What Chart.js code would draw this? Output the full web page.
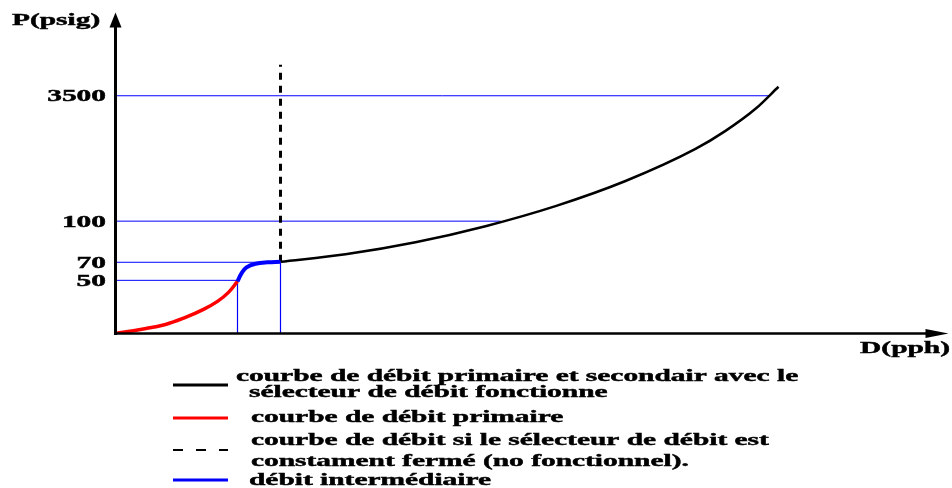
<!DOCTYPE html>
<html>
<head>
<meta charset="utf-8">
<script src="https://cdn.jsdelivr.net/npm/chart.js@4/dist/chart.umd.min.js"></script>
<style>
  html, body { margin: 0; padding: 0; background: #fff; }
  #wrap { width: 952px; height: 488px; }
</style>
</head>
<body>
<div id="wrap"><canvas id="graficoDebit"></canvas></div>
<script>
// =====================================================
// DONNEES - COURBE DEBIT / PRESSION
// =====================================================

// positions sur l'axe P (unites de trace) et libelles affiches
const yTickPos = [53, 71, 112, 237];
const yTickLabels = ["50", "70", "100", "3500"];

// fin de chaque ligne de repere horizontale (sur D)
const guideEndX = [122, 165, 385, 654];

// reperes verticaux (sur D) et leur hauteur
const guideVertX = [122, 165];
const guideVertY = [53, 71];

// courbe de debit primaire (rouge)
const primaireX = [0, 25, 50, 70, 88, 102, 113, 122];
const primaireY = [0, 4, 9, 16, 24, 32, 41, 52];

// debit intermediaire (bleu)
const interX = [122, 126, 131, 140, 152, 165];
const interY = [52, 60, 66, 69.5, 71, 71.5];

// primaire + secondaire avec selecteur (noir)
const totalX = [165, 230, 300, 370, 440, 510, 580, 610, 640, 663];
const totalY = [71.5, 79, 91, 107, 127, 152, 184, 202, 224, 246];

// selecteur constamment ferme (tirets)
const fermeX = [165, 165];
const fermeY = [71.5, 268];

const legendeItems = [
  { style: "solid", color: "#000", lines: ["courbe de débit primaire et secondair avec le", "sélecteur de débit fonctionne"], y: [381, 397], x: [236, 249], ly: 385 },
  { style: "solid", color: "#ff0000", lines: ["courbe de débit primaire"], y: [422], x: [251], ly: 418 },
  { style: "dash", color: "#000", lines: ["courbe de débit si le sélecteur de débit est", "constament fermé (no fonctionnel)."], y: [445, 466], x: [251, 251], ly: 450 },
  { style: "solid", color: "#0000ff", lines: ["débit intermédiaire"], y: [485], x: [249], ly: 480 }
];

const FONT = "bold 17px 'Liberation Serif'";
const STRETCH = 1.73;

function puntos(xs, ys) {
  return xs.map((x, i) => ({ x: x, y: ys[i] }));
}

// =====================================================
// LIGNES DE REPERE (bleu fin)
// =====================================================

const guides = [];
yTickPos.forEach((p, i) => {
  guides.push({
    data: [{ x: 0, y: p }, { x: guideEndX[i], y: p }],
    borderColor: "#0000ff", borderWidth: 1, pointRadius: 0, order: 5
  });
});
guideVertX.forEach((gx, i) => {
  guides.push({
    data: [{ x: gx, y: 0 }, { x: gx, y: guideVertY[i] }],
    borderColor: "#0000ff", borderWidth: 1.2, pointRadius: 0, order: 5
  });
});

// =====================================================
// TEXTE ETIRE + AXES FLECHES
// =====================================================

function texte(ctx, str, x, y, align) {
  ctx.save();
  ctx.font = FONT;
  ctx.fillStyle = "#000";
  ctx.strokeStyle = "#000";
  ctx.lineWidth = 0.45;
  ctx.textBaseline = "alphabetic";
  ctx.textAlign = align || "left";
  ctx.translate(x, y);
  ctx.scale(STRETCH, 1);
  ctx.fillText(str, 0, 0);
  ctx.strokeText(str, 0, 0);
  ctx.restore();
}

const axesPlugin = {
  id: "axesFleches",
  afterDraw(chart) {
    const ctx = chart.ctx;
    const xs = chart.scales.x;
    const ys = chart.scales.y;
    const x0 = xs.getPixelForValue(0);
    const y0 = ys.getPixelForValue(0);
    const yTop = ys.getPixelForValue(ys.max);
    const xEnd = xs.getPixelForValue(xs.max);

    ctx.save();
    ctx.strokeStyle = "#000";
    ctx.fillStyle = "#000";
    ctx.lineWidth = 3;

    // axe P
    ctx.beginPath();
    ctx.moveTo(x0, y0 + 1.5);
    ctx.lineTo(x0, yTop + 12);
    ctx.stroke();
    ctx.beginPath();
    ctx.moveTo(x0, yTop);
    ctx.lineTo(x0 - 6, yTop + 15);
    ctx.lineTo(x0 + 6, yTop + 15);
    ctx.closePath();
    ctx.fill();

    // axe D
    ctx.lineWidth = 2.5;
    ctx.beginPath();
    ctx.moveTo(x0, y0);
    ctx.lineTo(xEnd - 18, y0);
    ctx.stroke();
    ctx.beginPath();
    ctx.moveTo(xEnd + 3, y0);
    ctx.lineTo(xEnd - 20, y0 - 4.5);
    ctx.lineTo(xEnd - 20, y0 + 4.5);
    ctx.closePath();
    ctx.fill();
    ctx.restore();

    // libelles des axes
    texte(ctx, "P(psig)", 12, 25, "left");
    texte(ctx, "D(pph)", 950, 353, "right");

    // graduations P
    yTickPos.forEach((p, i) => {
      texte(ctx, yTickLabels[i], 106, ys.getPixelForValue(p) + 5.5, "right");
    });

    // legende
    legendeItems.forEach(item => {
      ctx.save();
      ctx.strokeStyle = item.color;
      ctx.lineWidth = 3;
      if (item.style === "dash") {
        ctx.lineWidth = 2;
        ctx.setLineDash([10, 13]);
      }
      ctx.beginPath();
      ctx.moveTo(173, item.ly);
      ctx.lineTo(228, item.ly);
      ctx.stroke();
      ctx.restore();
      item.lines.forEach((l, k) => texte(ctx, l, item.x[k], item.y[k], "left"));
    });
  }
};

// =====================================================
// GRAPHIQUE
// =====================================================

const ctx = document.getElementById("graficoDebit").getContext("2d");

new Chart(ctx, {
  type: "line",
  data: {
    datasets: [
      ...guides,
      {
        data: puntos(primaireX, primaireY),
        borderColor: "#ff0000", borderWidth: 3.5, pointRadius: 0,
        tension: 0.4, order: 2
      },
      {
        data: puntos(interX, interY),
        borderColor: "#0000ff", borderWidth: 4, pointRadius: 0,
        tension: 0.4, order: 1
      },
      {
        data: puntos(totalX, totalY),
        borderColor: "#000", borderWidth: 2.5, pointRadius: 0,
        cubicInterpolationMode: "monotone", order: 2
      },
      {
        data: puntos(fermeX, fermeY),
        borderColor: "#000", borderWidth: 3, borderDash: [7, 6], pointRadius: 0,
        order: 3
      }
    ]
  },
  options: {
    responsive: true,
    maintainAspectRatio: false,
    animation: false,
    layout: { padding: { left: 115.5, right: 6.5, top: 12.5, bottom: 154.5 } },
    plugins: { legend: { display: false }, tooltip: { enabled: false } },
    scales: {
      x: { type: "linear", min: 0, max: 830, display: false },
      y: { type: "linear", min: 0, max: 320, display: false }
    }
  },
  plugins: [axesPlugin]
});
</script>
</body>
</html>
